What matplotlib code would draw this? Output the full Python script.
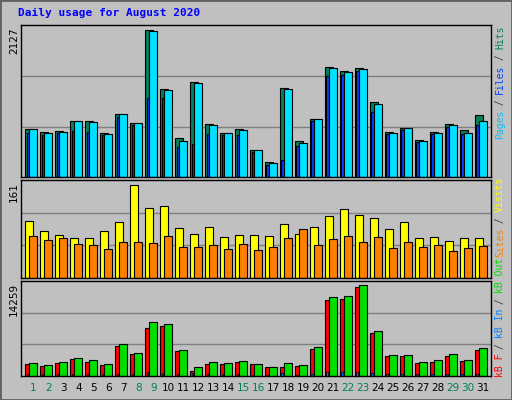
import numpy as np
import matplotlib.pyplot as plt
from matplotlib.patches import Rectangle

days = list(range(1, 32))
weekend = [1, 2, 8, 9, 15, 16, 22, 23, 29, 30]

hits = [669, 636, 650, 781, 781, 622, 879, 753, 2071, 1238, 542, 1342, 739, 622, 669, 374,
        206, 1253, 500, 809, 1552, 1491, 1533, 1061, 636, 683, 514, 636, 739, 655, 865]
files = [669, 622, 636, 781, 767, 608, 879, 753, 2057, 1225, 500, 1328, 725, 622, 655, 374,
         192, 1238, 472, 809, 1539, 1477, 1519, 1033, 622, 683, 500, 622, 725, 622, 781]
pages = [622, 584, 612, 641, 627, 589, 842, 725, 1117, 1117, 416, 458, 598, 584, 584, 346,
         164, 234, 430, 781, 1425, 1440, 1496, 921, 598, 654, 486, 598, 697, 598, 738]
visits = [94, 78, 71, 66, 66, 78, 93, 154, 116, 118, 83, 73, 84, 68, 71, 71,
          69, 89, 73, 84, 103, 114, 104, 99, 81, 93, 66, 68, 61, 66, 66]
sites = [69, 62, 66, 56, 54, 47, 59, 59, 58, 69, 51, 51, 54, 47, 56, 46,
         51, 66, 81, 54, 64, 69, 59, 68, 49, 59, 51, 54, 44, 49, 52]
kb_out = [2010, 1710, 2160, 2760, 2460, 1860, 4870, 3510, 8180, 7880, 3960, 1410, 2160, 2010, 2310, 1860,
          1410, 2010, 1710, 4420, 11950, 12100, 13760, 6820, 3210, 3210, 2160, 2460, 3360, 2460, 4270]
kb_f = [1860, 1560, 2010, 2610, 2160, 1710, 4570, 3360, 7280, 7580, 3810, 800, 1860, 1860, 2160, 1860,
        1410, 1410, 1560, 4120, 11500, 11650, 13460, 6520, 3060, 3060, 2010, 2160, 3060, 2310, 3960]
kb_in = [300, 300, 300, 300, 300, 300, 300, 300, 650, 500, 300, 500, 300, 300, 300, 100,
         100, 500, 100, 300, 650, 650, 650, 500, 300, 300, 300, 300, 300, 300, 300]

W, H = 512, 400
bg = '#c0c0c0'
fig = plt.figure(figsize=(W / 100, H / 100), dpi=100, facecolor=bg)
fig.patches.append(Rectangle((0, 0), 1, 1, transform=fig.transFigure, fill=False,
                             edgecolor='#606060', linewidth=2))


def panel(y0, y1):
    ax = fig.add_axes([20.7 / W, 1 - y1 / H, (491 - 20.7) / W, (y1 - y0) / H])
    ax.set_facecolor(bg)
    ax.set_xlim(-0.29, 31.07)
    ax.set_xticks([])
    ax.set_yticks([])
    for s in ax.spines.values():
        s.set_color('black')
        s.set_linewidth(1)
    return ax


x = np.arange(31)
lw = 0.8

ax1 = panel(25, 177)
ax1.set_ylim(0, 2127 * 1.005)
for g in (2127 / 3, 2127 * 2 / 3):
    ax1.axhline(g, color='#808080', lw=1, zorder=0)
ax1.bar(x, hits, width=0.55, align='edge', color='#00805c', edgecolor='black', lw=lw)
ax1.bar(x + 0.1, pages, width=0.18, align='edge', color='#0040ff', edgecolor='black', lw=lw)
ax1.bar(x + 0.28, files, width=0.5, align='edge', color='#00e0ff', edgecolor='black', lw=lw)

ax2 = panel(180, 277.7)
ax2.set_ylim(0, 161 * 1.005)
for g in (161 / 3, 161 * 2 / 3):
    ax2.axhline(g, color='#808080', lw=1, zorder=0)
ax2.bar(x, visits, width=0.55, align='edge', color='#ffff00', edgecolor='black', lw=lw)
ax2.bar(x + 0.28, sites, width=0.5, align='edge', color='#ff8000', edgecolor='black', lw=lw)

ax3 = panel(281, 376)
ax3.set_ylim(0, 14259 * 1.005)
for g in (14259 / 3, 14259 * 2 / 3):
    ax3.axhline(g, color='#808080', lw=1, zorder=0)
ax3.bar(x, kb_f, width=0.55, align='edge', color='#ff0000', edgecolor='black', lw=lw)
ax3.bar(x + 0.28, kb_out, width=0.5, align='edge', color='#00e000', edgecolor='black', lw=lw)
ax3.bar(x + 0.1, kb_in, width=0.12, align='edge', color='#0080ff', edgecolor='black', lw=0.5)

for i, d in enumerate(days):
    col = '#00805c' if d in weekend else 'black'
    ax3.text(i + 0.55, -0.13, str(d), transform=ax3.get_xaxis_transform(),
             ha='center', va='center', fontsize=7.5, color=col)

fig.text(18 / W, 1 - 13 / H, 'Daily usage for August 2020', color='#0000ff',
         fontsize=8, fontweight='bold', family='DejaVu Sans Mono', va='center')

for lab, ytop in (('2127', 27), ('161', 182), ('14259', 283)):
    fig.text(14 / W, 1 - ytop / H, lab, rotation=90, ha='center', va='top', fontsize=7.5)


def vlabel(parts, ybottom):
    y = ybottom
    for txt, col in parts:
        fig.text(500 / W, 1 - y / H, txt, rotation=90, ha='center', va='bottom',
                 color=col, fontsize=7, family='DejaVu Sans Mono')
        y -= len(txt) * 5.6


vlabel([('Pages', '#00c0ff'), (' / ', '#404040'), ('Files', '#0040ff'),
        (' / ', '#404040'), ('Hits', '#00805c')], 139)
vlabel([('Sites', '#ff8000'), (' / ', '#404040'), ('Visits', '#ffff00')], 257)
vlabel([('kB F', '#ff0000'), (' / ', '#404040'), ('kB In', '#0080ff'),
        (' / ', '#404040'), ('kB Out', '#00e000')], 377)

fig.savefig('out.png', dpi=100, facecolor=bg)
